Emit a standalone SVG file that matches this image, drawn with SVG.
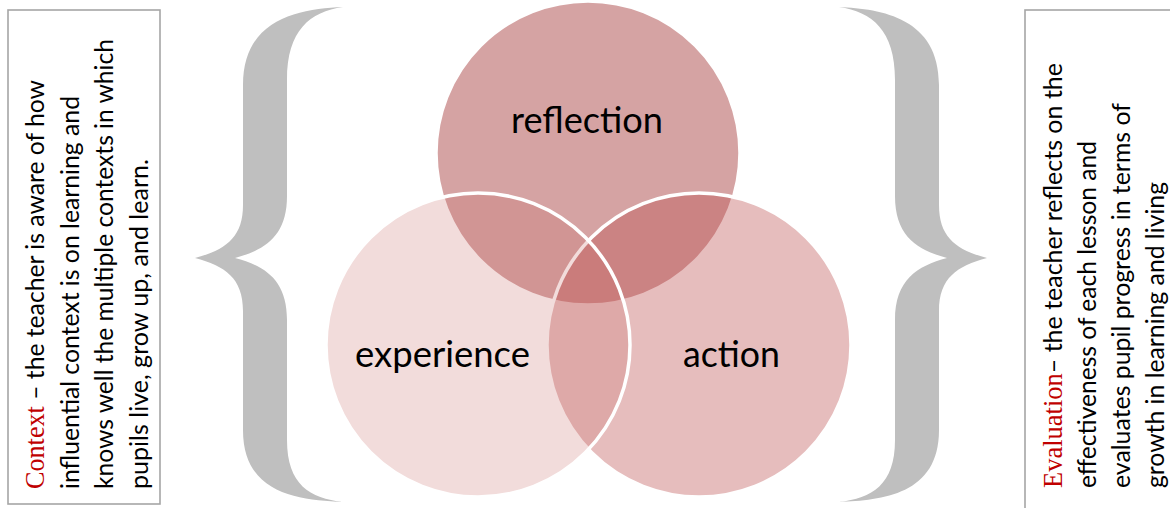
<svg xmlns="http://www.w3.org/2000/svg" xmlns:xlink="http://www.w3.org/1999/xlink" width="1170" height="508" viewBox="0 0 1170 508">
  <style>
    .box { fill: #ffffff; stroke: #a6a6a6; stroke-width: 1.6; }
    .btxt { font-family: Lato, "Open Sans", "Liberation Sans", sans-serif; font-size: 25px; fill: #000000; }
    .red { font-family: "Liberation Serif", "DejaVu Serif", serif; font-size: 26.5px; fill: #c00000; }
    .ctxt { font-family: Lato, "Open Sans", "Liberation Sans", sans-serif; font-size: 37px; fill: #000000; text-anchor: middle; }
    .brace { fill: #bfbfbf; }
    .circ { stroke: #ffffff; stroke-width: 3.5; }
  </style>
  <defs>
    <path id="bracePath" d="M 343,7 C 300,9 243,18 243,85 L 243,205 C 243,238 225,250 195,258 C 225,266 243,278 243,311 L 243,430 C 243,495 300,500 343,502 C 310,498 287,485 287,440 L 287,320 C 287,280 265,266 235,258 C 265,250 287,236 287,196 L 287,80 C 287,30 310,12 343,7 Z"/>
  </defs>
  <rect width="1170" height="508" fill="#ffffff"/>

  <g id="box-context">
    <rect class="box" x="8" y="10" width="152" height="494"/>
    <text class="btxt" transform="translate(44,489) rotate(-90)" textLength="409" lengthAdjust="spacingAndGlyphs"><tspan class="red">Context</tspan> – the teacher is aware of how</text>
    <text class="btxt" transform="translate(78.5,489) rotate(-90)" textLength="393" lengthAdjust="spacingAndGlyphs">influential context is on learning and</text>
    <text class="btxt" transform="translate(113,489) rotate(-90)" textLength="450" lengthAdjust="spacingAndGlyphs">knows well the multiple contexts in which</text>
    <text class="btxt" transform="translate(147.5,489) rotate(-90)" textLength="330" lengthAdjust="spacingAndGlyphs">pupils live, grow up, and learn.</text>
  </g>

  <g id="brace-left">
    <use xlink:href="#bracePath" href="#bracePath" class="brace"/>
  </g>
  <g id="brace-right">
    <use xlink:href="#bracePath" href="#bracePath" class="brace" transform="translate(1182,0) scale(-1,1)"/>
  </g>

  <g id="node-reflection">
    <circle class="circ" cx="588" cy="153" r="152" fill="#d5a3a3"/>
    <text class="ctxt" x="587" y="133" textLength="152" lengthAdjust="spacingAndGlyphs">reflection</text>
  </g>
  <g id="node-action">
    <circle class="circ" cx="699" cy="345" r="152" fill="rgb(187,77,77)" fill-opacity="0.37"/>
    <text class="ctxt" x="731.5" y="367" textLength="97" lengthAdjust="spacingAndGlyphs">action</text>
  </g>
  <g id="node-experience">
    <circle class="circ" cx="478" cy="345" r="152" fill="rgb(198,103,98)" fill-opacity="0.23"/>
    <text class="ctxt" x="442.5" y="367" textLength="175" lengthAdjust="spacingAndGlyphs">experience</text>
  </g>

  <g id="box-evaluation">
    <rect class="box" x="1025" y="10" width="160" height="510"/>
    <text class="btxt" transform="translate(1062,488) rotate(-90)" textLength="425" lengthAdjust="spacingAndGlyphs"><tspan class="red">Evaluation</tspan>– the teacher reflects on the</text>
    <text class="btxt" transform="translate(1096,488) rotate(-90)" textLength="347" lengthAdjust="spacingAndGlyphs">effectiveness of each lesson and</text>
    <text class="btxt" transform="translate(1130,488) rotate(-90)" textLength="385" lengthAdjust="spacingAndGlyphs">evaluates pupil progress in terms of</text>
    <text class="btxt" transform="translate(1164,488) rotate(-90)" textLength="306" lengthAdjust="spacingAndGlyphs">growth in learning and living</text>
  </g>
</svg>
